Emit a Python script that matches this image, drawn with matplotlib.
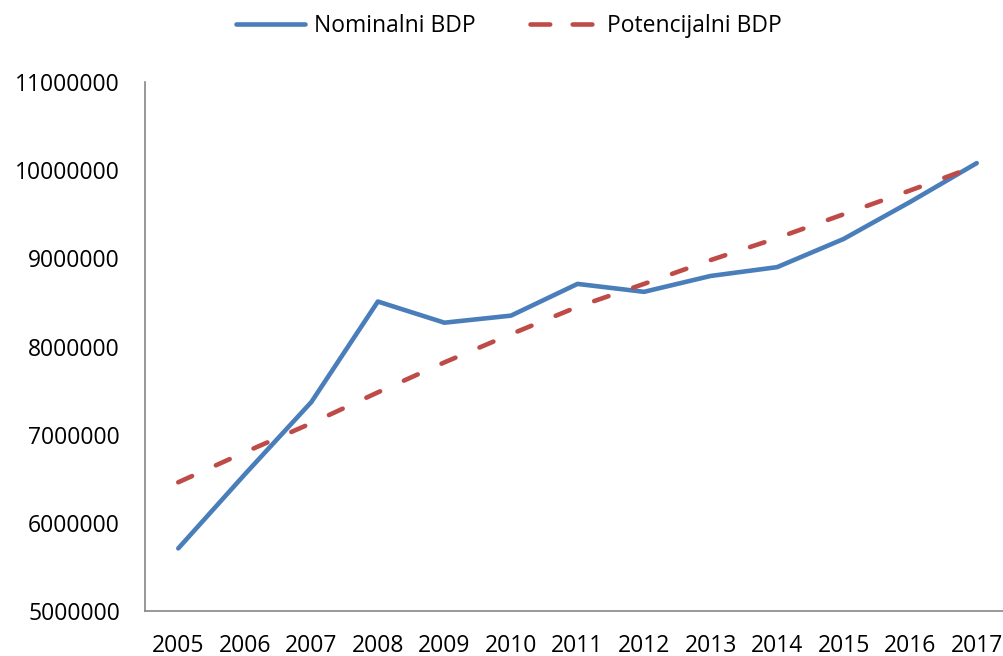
import numpy as np
import matplotlib.pyplot as plt
from matplotlib.lines import Line2D

plt.rcParams['font.family'] = ['Open Sans', 'DejaVu Sans']

years = [2005, 2006, 2007, 2008, 2009, 2010, 2011, 2012, 2013, 2014, 2015, 2016, 2017]
nominalni = [5710000, 6550000, 7370000, 8510000, 8270000, 8350000, 8710000,
             8620000, 8800000, 8900000, 9220000, 9640000, 10080000]
potencijalni = [6460000, 6800000, 7130000, 7480000, 7820000, 8140000, 8450000,
                8710000, 8980000, 9230000, 9500000, 9770000, 10050000]
y_ticks = [5000000, 6000000, 7000000, 8000000, 9000000, 10000000, 11000000]

blue = '#4A7EBB'
red = '#BE4B48'
lw = 3.3

fig = plt.figure(figsize=(10.04, 6.56), dpi=100)
W, H = 1004, 656
# plot area runs past the right edge of the picture, as in the reference
ax = fig.add_axes([145 / W, (H - 611) / H, (1010 - 145) / W, (611 - 82) / H])

x = np.arange(len(years))
ax.plot(x, nominalni, color=blue, lw=lw,
        solid_capstyle='round', solid_joinstyle='round')
ax.plot(x, potencijalni, color=red, lw=lw,
        dashes=(3.3, 5.7), dash_capstyle='round')

ax.set_xlim(-0.5, len(years) - 0.5)
ax.set_ylim(5000000, 11000000)
ax.set_xticks(x)
ax.set_xticklabels([str(y) for y in years])
ax.set_yticks(y_ticks)
ax.set_yticklabels([str(v) for v in y_ticks])
ax.tick_params(axis='both', length=0, labelsize=16.5, colors='black')
ax.tick_params(axis='y', pad=18)
ax.tick_params(axis='x', pad=16.5)

for s in ['top', 'right']:
    ax.spines[s].set_visible(False)
for s in ['left', 'bottom']:
    ax.spines[s].set_color('#868686')
    ax.spines[s].set_linewidth(1.2)

# legend handles: same styles, legend-sized dash pattern
h_nom = Line2D([], [], color=blue, lw=lw, solid_capstyle='round')
h_pot = Line2D([], [], color=red, lw=lw, dashes=(4.3, 4.9), dash_capstyle='round')
fig.legend([h_nom, h_pot], ['Nominalni BDP', 'Potencijalni BDP'],
           loc='upper center', bbox_to_anchor=(0.507, 1.01), ncol=2, frameon=False,
           fontsize=16.5, handlelength=3.0, handletextpad=0.39, columnspacing=2.36)

fig.savefig('out.png', dpi=100)
